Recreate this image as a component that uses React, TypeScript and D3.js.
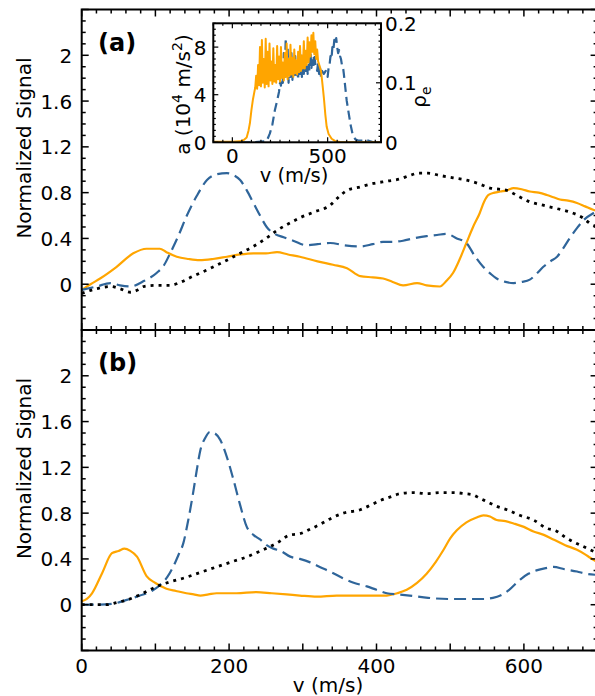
import React from 'react';
import * as d3 from 'd3';

// ---------- data (v in m/s, normalized signal) ----------
const panelAOrange: [number, number][] = [[0,-0.05],[12,0.0],[25,0.05],[47,0.15],[70,0.27],[88,0.31],[106,0.31],[115,0.28],[129,0.24],[145,0.22],[160,0.21],[178,0.22],[197,0.24],[215,0.26],[233,0.27],[250,0.27],[265,0.28],[280,0.26],[296,0.24],[320,0.2],[341,0.17],[360,0.14],[378,0.07],[395,0.06],[409,0.05],[422,0.02],[436,-0.01],[455,0.01],[468,-0.01],[486,-0.02],[495,0.03],[504,0.10],[513,0.22],[522,0.36],[531,0.5],[540,0.62],[546,0.72],[552,0.78],[560,0.8],[568,0.81],[577,0.82],[586,0.84],[597,0.83],[608,0.81],[620,0.8],[631,0.78],[640,0.76],[649,0.74],[660,0.73],[672,0.71],[683,0.68],[694,0.65],[700,0.64]];
const panelABlue: [number, number][] = [[0,-0.05],[20,-0.02],[39,0.01],[52,-0.01],[66,-0.02],[85,0.03],[102,0.10],[112,0.17],[120,0.27],[131,0.42],[142,0.59],[156,0.77],[170,0.91],[183,0.96],[197,0.97],[207,0.95],[215,0.91],[224,0.82],[233,0.71],[242,0.6],[251,0.5],[262,0.44],[274,0.41],[287,0.38],[305,0.34],[320,0.35],[337,0.36],[357,0.34],[378,0.33],[395,0.35],[409,0.37],[422,0.37],[436,0.38],[450,0.40],[468,0.42],[482,0.43],[495,0.44],[509,0.40],[522,0.36],[533,0.25],[545,0.15],[555,0.09],[563,0.05],[575,0.02],[586,0.01],[597,0.02],[608,0.04],[617,0.09],[626,0.15],[636,0.2],[645,0.24],[654,0.32],[663,0.41],[672,0.49],[681,0.56],[694,0.62],[700,0.64]];
const panelABlack: [number, number][] = [[0,-0.08],[20,-0.04],[39,-0.02],[52,-0.04],[66,-0.07],[76,-0.05],[84,-0.02],[100,-0.01],[120,-0.01],[135,0.02],[151,0.07],[175,0.14],[197,0.21],[215,0.27],[233,0.33],[250,0.4],[265,0.47],[287,0.55],[296,0.58],[315,0.63],[337,0.69],[350,0.77],[360,0.82],[378,0.85],[396,0.88],[414,0.9],[432,0.92],[445,0.95],[457,0.97],[470,0.97],[486,0.95],[504,0.93],[522,0.91],[538,0.88],[554,0.84],[566,0.83],[577,0.82],[592,0.77],[608,0.72],[626,0.69],[645,0.66],[667,0.62],[680,0.58],[690,0.53],[700,0.5]];

const panelBOrange: [number, number][] = [[0,0.03],[7,0.05],[14,0.10],[28,0.28],[41,0.45],[50,0.47],[58,0.49],[66,0.47],[75,0.42],[88,0.25],[100,0.19],[115,0.14],[128,0.12],[142,0.10],[152,0.09],[161,0.08],[172,0.09],[183,0.10],[210,0.10],[237,0.11],[258,0.10],[278,0.09],[296,0.08],[319,0.07],[346,0.08],[373,0.08],[395,0.08],[414,0.08],[428,0.10],[441,0.13],[455,0.19],[468,0.27],[480,0.37],[491,0.48],[500,0.58],[509,0.65],[522,0.72],[535,0.76],[545,0.78],[554,0.77],[563,0.74],[575,0.73],[586,0.71],[600,0.68],[613,0.64],[627,0.61],[640,0.57],[656,0.52],[672,0.48],[683,0.44],[690,0.41],[700,0.37]];
const panelBBlue: [number, number][] = [[0,0],[20,0.0],[43,0.01],[60,0.04],[79,0.08],[95,0.12],[106,0.17],[116,0.24],[124,0.33],[131,0.43],[138,0.54],[144,0.72],[151,0.97],[156,1.17],[161,1.35],[167,1.45],[174,1.51],[180,1.50],[188,1.44],[197,1.29],[206,1.09],[215,0.87],[224,0.68],[233,0.61],[242,0.57],[251,0.52],[260,0.49],[270,0.47],[283,0.42],[296,0.40],[310,0.37],[323,0.33],[340,0.28],[355,0.23],[370,0.19],[387,0.16],[400,0.13],[414,0.10],[430,0.09],[445,0.08],[470,0.06],[500,0.05],[525,0.05],[545,0.05],[558,0.06],[568,0.08],[580,0.13],[595,0.22],[606,0.27],[617,0.30],[630,0.32],[640,0.33],[655,0.31],[672,0.29],[685,0.27],[700,0.26]];
const panelBBlack: [number, number][] = [[0,0],[20,0],[34,0.0],[48,0.02],[61,0.04],[80,0.09],[102,0.16],[120,0.20],[142,0.24],[160,0.28],[183,0.33],[206,0.38],[225,0.42],[246,0.48],[265,0.54],[283,0.61],[296,0.62],[310,0.66],[323,0.70],[340,0.76],[355,0.80],[378,0.83],[392,0.87],[405,0.91],[418,0.94],[432,0.97],[450,0.98],[468,0.97],[486,0.98],[504,0.98],[520,0.97],[531,0.96],[540,0.93],[550,0.90],[563,0.86],[577,0.83],[595,0.78],[613,0.74],[630,0.67],[645,0.64],[656,0.59],[667,0.55],[680,0.51],[690,0.48],[700,0.45]];

// inset: acceleration a (10^4 m/s^2) and rho_e
const insetAccel: [number, number][] = [[-100,0.05],[0,0.05],[40,0.08],[60,0.2],[75,0.4],[85,1.0],[92,1.6],[100,2.7],[108,3.6],[115,4.2],[120,4.6],[125,5.6],[130,4.5],[135,6.5],[140,4.8],[145,8.0],[150,4.7],[155,8.6],[160,5.0],[165,7.0],[170,4.6],[175,8.7],[180,4.9],[185,7.6],[190,4.7],[195,8.3],[200,5.2],[205,6.8],[210,4.9],[215,7.9],[220,5.1],[225,6.5],[230,5.0],[235,8.1],[240,5.3],[245,7.2],[250,5.1],[255,8.0],[260,5.4],[265,6.7],[270,5.2],[275,7.5],[280,5.5],[285,8.3],[290,5.3],[295,7.0],[300,5.6],[305,8.2],[310,5.7],[315,7.1],[320,5.5],[325,7.8],[330,5.8],[335,6.9],[340,5.7],[345,7.6],[350,5.9],[355,8.1],[360,6.0],[365,7.3],[370,6.2],[375,8.5],[380,6.2],[385,7.7],[390,6.5],[395,8.8],[400,6.7],[405,8.4],[410,7.2],[415,9.0],[420,7.6],[425,9.2],[430,7.4],[435,8.5],[440,7.0],[445,7.8],[450,6.8],[458,6.4],[465,6.0],[470,5.3],[476,4.4],[481,3.6],[488,2.3],[495,1.3],[505,0.7],[521,0.3],[540,0.1],[565,0.02],[780,0.0]];
const insetRho: [number, number][] = [[-100,0],[100,0],[180,0.002],[197,0.015],[210,0.03],[223,0.054],[235,0.07],[245,0.085],[250,0.1],[255,0.095],[260,0.12],[265,0.1],[270,0.15],[275,0.11],[280,0.175],[285,0.12],[290,0.16],[295,0.1],[300,0.14],[305,0.11],[310,0.15],[315,0.105],[320,0.13],[325,0.11],[330,0.145],[335,0.11],[340,0.13],[345,0.105],[350,0.14],[355,0.115],[360,0.15],[365,0.11],[370,0.135],[375,0.115],[380,0.14],[385,0.12],[390,0.155],[395,0.115],[400,0.13],[405,0.12],[410,0.15],[415,0.125],[420,0.14],[425,0.13],[430,0.16],[435,0.13],[440,0.128],[445,0.12],[450,0.135],[455,0.115],[460,0.125],[465,0.11],[470,0.12],[480,0.115],[490,0.12],[500,0.11],[505,0.125],[510,0.13],[515,0.145],[520,0.14],[525,0.16],[530,0.155],[535,0.172],[540,0.165],[545,0.175],[550,0.16],[555,0.15],[560,0.155],[565,0.145],[570,0.14],[575,0.13],[580,0.128],[585,0.115],[590,0.1],[600,0.07],[610,0.05],[620,0.03],[630,0.015],[645,0.005],[660,0.003],[680,0.003],[700,0.004],[720,0.002],[740,0]];

const xTickLabels = [0, 200, 400, 600];
const yTickLabels = [0, 0.4, 0.8, 1.2, 1.6, 2];
const insetXTickLabels = [0, 500];
const insetYTickLabels = [0, 4, 8];
const insetRhoTickLabels = [0, 0.1, 0.2];
const panelLabels = ['(a)', '(b)'];

// ---------- styles ----------
const ORANGE = '#FFA500';
const BLUE = '#2F659A';
const FONT = 'DejaVu Sans, sans-serif';

const W = 595, H = 696;
const X0 = 81.7, X1 = 597.6;
const panels = [
  { top: 9.5, bottom: 330, data: [panelAOrange, panelABlue, panelABlack] },
  { top: 330, bottom: 650.5, data: [panelBOrange, panelBBlue, panelBBlack] },
];
const ylabelCenters = [148, 468.5];
const panelLabelBaselines = [50.5, 371];

const fmt = (v: number) => (Math.abs(v) < 1e-9 ? '0' : String(+v.toFixed(2)));
const rng = (a: number, b: number, s: number) => d3.range(Math.round(a / s), Math.round(b / s) + 1).map((k) => +(k * s).toFixed(6));

export default function App() {
  const x = d3.scaleLinear().domain([0, 700]).range([X0, X1]);
  const xMajor = rng(0, 700, 100);
  const xMinor = rng(0, 700, 20).filter((v) => Math.abs(v % 100) > 1e-6);
  const yMajor = rng(-0.4, 2.4, 0.4);
  const yMinor = rng(-0.4, 2.4, 0.1).filter((v) => !yMajor.some((m) => Math.abs(m - v) < 1e-6));

  // inset scales
  const IX0 = 213.3, IX1 = 381, IY0 = 23.3, IY1 = 142.3;
  const ix = d3.scaleLinear().domain([-100, 780]).range([IX0, IX1]);
  const iyA = d3.scaleLinear().domain([0, 10]).range([IY1, IY0]);
  const iyR = d3.scaleLinear().domain([0, 0.2]).range([IY1, IY0]);
  const accelLine = d3.line<[number, number]>().x((d) => ix(d[0])).y((d) => iyA(d[1]));
  const rhoLine = d3.line<[number, number]>().x((d) => ix(d[0])).y((d) => iyR(d[1]));

  const styles = [
    { stroke: ORANGE, dash: undefined, w: 2.2 },
    { stroke: BLUE, dash: '12,6', w: 2.2 },
    { stroke: '#000', dash: '3,5', w: 2.8 },
  ];

  return (
    <svg width={W} height={H} style={{ position: 'absolute', left: 0, top: 0, background: '#fff' }} fontFamily={FONT}>
      <rect x={0} y={0} width={W} height={H} fill="#fff" />
      <defs>
        {panels.map((p, i) => (
          <clipPath id={`clip${i}`} key={i}>
            <rect x={X0} y={p.top} width={X1 - X0} height={p.bottom - p.top} />
          </clipPath>
        ))}
        <clipPath id="clipInset">
          <rect x={IX0} y={IY0 - 2} width={IX1 - IX0} height={IY1 - IY0 + 2} />
        </clipPath>
      </defs>

      {panels.map((p, i) => {
        const y = d3.scaleLinear().domain([-0.4, 2.4]).range([p.bottom, p.top]);
        const line = d3.line<[number, number]>().x((d) => x(d[0])).y((d) => y(d[1])).curve(d3.curveMonotoneX);
        return (
          <g key={i}>
            <g clipPath={`url(#clip${i})`}>
              {p.data.map((d, k) => (
                <path key={k} d={line(d) || ''} fill="none" stroke={styles[k].stroke} strokeWidth={styles[k].w}
                  strokeDasharray={styles[k].dash} strokeLinejoin="round" />
              ))}
            </g>
            {/* ticks */}
            <g stroke="#000" strokeWidth={1.5}>
              {xMajor.map((v) => (
                <g key={`xM${v}`}>
                  <line x1={x(v)} x2={x(v)} y1={p.bottom} y2={p.bottom - 7} />
                  <line x1={x(v)} x2={x(v)} y1={p.top} y2={p.top + 7} />
                </g>
              ))}
              {xMinor.map((v) => (
                <g key={`xm${v}`}>
                  <line x1={x(v)} x2={x(v)} y1={p.bottom} y2={p.bottom - 4} />
                  <line x1={x(v)} x2={x(v)} y1={p.top} y2={p.top + 4} />
                </g>
              ))}
              {yMajor.map((v) => (
                <g key={`yM${v}`}>
                  <line x1={X0} x2={X0 + 7} y1={y(v)} y2={y(v)} />
                  <line x1={X1} x2={X1 - 7} y1={y(v)} y2={y(v)} />
                </g>
              ))}
              {yMinor.map((v) => (
                <g key={`ym${v}`}>
                  <line x1={X0} x2={X0 + 4} y1={y(v)} y2={y(v)} />
                  <line x1={X1} x2={X1 - 4} y1={y(v)} y2={y(v)} />
                </g>
              ))}
            </g>
            <rect x={X0} y={p.top} width={X1 - X0} height={p.bottom - p.top} fill="none" stroke="#000" strokeWidth={2} />
            {yTickLabels.map((v) => (
              <text key={`yl${v}`} x={X0 - 9.5} y={y(v) + 7.5} textAnchor="end" fontSize={20} fill="#000">{fmt(v)}</text>
            ))}
            <text transform={`translate(31,${ylabelCenters[i]}) rotate(-90)`} textAnchor="middle" fontSize={20} fill="#000">Normalized Signal</text>
            <text x={98} y={panelLabelBaselines[i]} fontSize={24} fontWeight="bold" fill="#000">{panelLabels[i]}</text>
          </g>
        );
      })}

      {xTickLabels.map((v) => (
        <text key={`xl${v}`} x={x(v)} y={672.5} textAnchor="middle" fontSize={20} fill="#000">{v}</text>
      ))}
      <text x={328} y={692} textAnchor="middle" fontSize={20} fill="#000">v (m/s)</text>

      {/* inset */}
      <g>
        <rect x={IX0} y={IY0} width={IX1 - IX0} height={IY1 - IY0} fill="#fff" />
        <g clipPath="url(#clipInset)">
          <path d={rhoLine(insetRho) || ''} fill="none" stroke={BLUE} strokeWidth={2.2} strokeDasharray="9,5" strokeLinejoin="round" />
          <path d={accelLine(insetAccel) || ''} fill="none" stroke={ORANGE} strokeWidth={2} strokeLinejoin="round" />
        </g>
        <g stroke="#000" strokeWidth={1.2}>
          {rng(-100, 750, 50).map((v) => {
            const major = v % 500 === 0;
            const L = major ? 5 : 2.5;
            return (
              <g key={`ix${v}`}>
                <line x1={ix(v)} x2={ix(v)} y1={IY1} y2={IY1 - L} />
                <line x1={ix(v)} x2={ix(v)} y1={IY0} y2={IY0 + L} />
              </g>
            );
          })}
          {rng(0, 10, 0.5).map((v) => {
            const major = Math.abs(v % 4) < 1e-6;
            return <line key={`iy${v}`} x1={IX0} x2={IX0 + (major ? 5 : 2.5)} y1={iyA(v)} y2={iyA(v)} />;
          })}
          {rng(0, 0.2, 0.01).map((v) => {
            const major = Math.abs((v * 100) % 10) < 1e-6;
            return <line key={`ir${v}`} x1={IX1} x2={IX1 - (major ? 5 : 2.5)} y1={iyR(v)} y2={iyR(v)} />;
          })}
        </g>
        <rect x={IX0} y={IY0} width={IX1 - IX0} height={IY1 - IY0} fill="none" stroke="#000" strokeWidth={2} />
        {insetXTickLabels.map((v) => (
          <text key={`ixl${v}`} x={ix(v)} y={162.5} textAnchor="middle" fontSize={20} fill="#000">{v}</text>
        ))}
        {insetYTickLabels.map((v) => (
          <text key={`iyl${v}`} x={206.5} y={iyA(v) + 7.5} textAnchor="end" fontSize={20} fill="#000">{v}</text>
        ))}
        {insetRhoTickLabels.map((v) => (
          <text key={`irl${v}`} x={385} y={iyR(v) + 7.5} textAnchor="start" fontSize={20} fill="#000">{fmt(v)}</text>
        ))}
        <text x={294} y={181.5} textAnchor="middle" fontSize={19.5} fill="#000">v (m/s)</text>
        <text transform="translate(190,94.5) rotate(-90)" textAnchor="middle" fontSize={20} fill="#000">
          a (10<tspan dy={-8} fontSize={14}>4</tspan><tspan dy={8}> m/s</tspan><tspan dy={-8} fontSize={14}>2</tspan><tspan dy={8}>)</tspan>
        </text>
        <text transform="translate(426,97) rotate(-90)" textAnchor="middle" fontSize={20} fill="#000">
          ρ<tspan dy={5} fontSize={14}>e</tspan>
        </text>
      </g>
    </svg>
  );
}
